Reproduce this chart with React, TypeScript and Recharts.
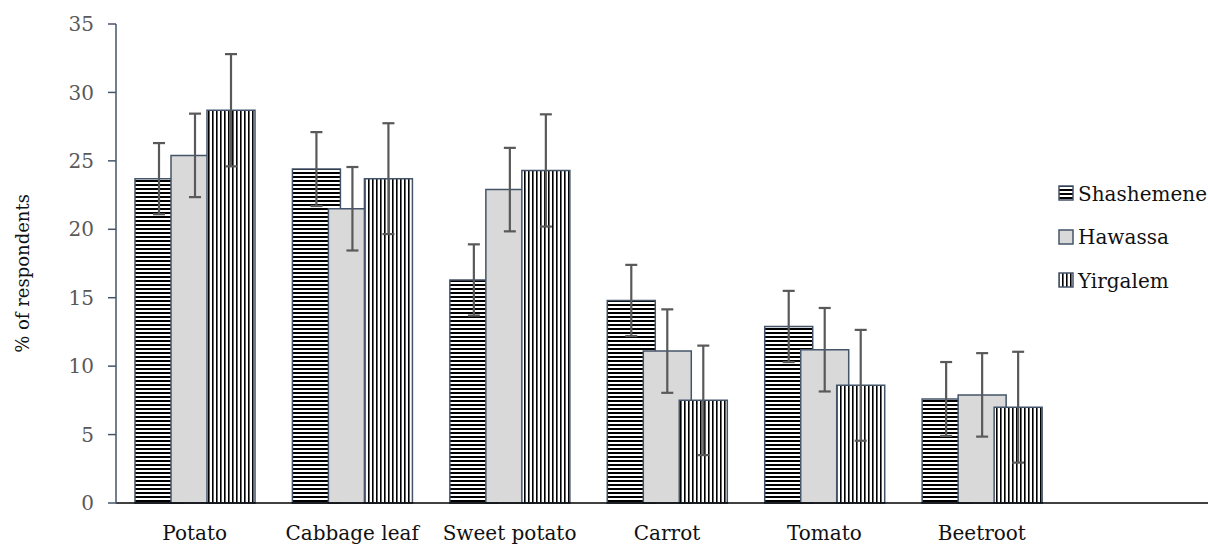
import React from "react";
import {
  BarChart,
  Bar,
  XAxis,
  YAxis,
  ErrorBar,
  Legend,
} from "recharts";

const categories = ["Potato", "Cabbage leaf", "Sweet potato", "Carrot", "Tomato", "Beetroot"];
const shashemene = [23.7, 24.4, 16.3, 14.8, 12.9, 7.6];
const hawassa = [25.4, 21.5, 22.9, 11.1, 11.2, 7.9];
const yirgalem = [28.7, 23.7, 24.3, 7.5, 8.6, 7.0];
const shashemeneErr = [2.6, 2.7, 2.6, 2.6, 2.6, 2.7];
const hawassaErr = [3.05, 3.05, 3.05, 3.05, 3.05, 3.05];
const yirgalemErr = [4.1, 4.05, 4.1, 4.0, 4.05, 4.05];
const yTicks = [0, 5, 10, 15, 20, 25, 30, 35];

const FONT = "'DejaVu Serif', serif";
const EDGE = "#44546A";

const series = [
  { key: "Shashemene", fill: "url(#hstripe)" },
  { key: "Hawassa", fill: "#D9D9D9" },
  { key: "Yirgalem", fill: "url(#vstripe)" },
];

// one blank slot at the end, the legend sits over it
const chartData = [...categories, ""].map((name, i) => ({
  name,
  Shashemene: shashemene[i] ?? null,
  Hawassa: hawassa[i] ?? null,
  Yirgalem: yirgalem[i] ?? null,
  ShashemeneErr: shashemeneErr[i] ?? 0,
  HawassaErr: hawassaErr[i] ?? 0,
  YirgalemErr: yirgalemErr[i] ?? 0,
}));

function LegendBox() {
  return (
    <div style={{ fontFamily: FONT, fontSize: 20, color: "#111" }}>
      {series.map((s) => (
        <div
          key={s.key}
          style={{ display: "flex", alignItems: "center", height: 43.5 }}
        >
          <svg width={17} height={17} style={{ marginRight: 3 }}>
            <rect x={1} y={1} width={14} height={14} fill={s.fill} stroke={EDGE} strokeWidth={1.5} />
          </svg>
          <span>{s.key}</span>
        </div>
      ))}
    </div>
  );
}

function YLabel(props: any) {
  const vb = props.viewBox || {};
  const cx = (vb.x || 0) + 22;
  const cy = (vb.y || 0) + vb.height / 2 + 10;
  return (
    <text
      x={cx}
      y={cy}
      transform={`rotate(-90 ${cx} ${cy})`}
      textAnchor="middle"
      dominantBaseline="central"
      fill="#111"
      fontSize={18}
      fontFamily={FONT}
    >
      % of respondents
    </text>
  );
}

export default function App() {
  return (
    <div
      style={{
        position: "absolute",
        left: 0,
        top: 0,
        width: 1208,
        height: 547,
        overflow: "hidden",
        background: "#fff",
      }}
    >
      <BarChart
        width={1220}
        height={547}
        data={chartData}
        margin={{ top: 24, right: 2, left: 0, bottom: 14 }}
        barSize={48}
        barGap={-12}
      >
        <defs>
          <pattern id="hstripe" width={4} height={4} patternUnits="userSpaceOnUse">
            <rect width={4} height={4} fill="#fff" />
            <rect y={0} width={4} height={2} fill="#000" />
          </pattern>
          <pattern id="vstripe" width={4} height={4} patternUnits="userSpaceOnUse">
            <rect width={4} height={4} fill="#fff" />
            <rect x={0} width={1.6} height={4} fill="#000" />
          </pattern>
        </defs>
        <XAxis
          dataKey="name"
          height={30}
          axisLine={{ stroke: "#000", strokeWidth: 1.5 }}
          tickLine={false}
          tickSize={0}
          tickMargin={23}
          interval={0}
          tick={{ fill: "#111", fontSize: 20, fontFamily: FONT }}
        />
        <YAxis
          width={116}
          domain={[0, 35]}
          ticks={yTicks}
          interval={0}
          axisLine={{ stroke: EDGE, strokeWidth: 1.5 }}
          tickLine={{ stroke: EDGE, strokeWidth: 1.5 }}
          tickSize={8}
          tickMargin={14}
          tick={{ fill: "#595959", fontSize: 20, fontFamily: FONT }}
          label={<YLabel />}
        />
        <Legend
          layout="vertical"
          align="center"
          verticalAlign="middle"
          content={() => <LegendBox />}
          wrapperStyle={{ left: 1058, top: 172, width: 170 }}
        />
        {series.map((s) => (
          <Bar
            key={s.key}
            dataKey={s.key}
            fill={s.fill}
            stroke={EDGE}
            strokeWidth={1.5}
            isAnimationActive={false}
          >
            <ErrorBar dataKey={s.key + "Err"} width={6} stroke="#595959" strokeWidth={2.2} direction="y" />
          </Bar>
        ))}
      </BarChart>
    </div>
  );
}
